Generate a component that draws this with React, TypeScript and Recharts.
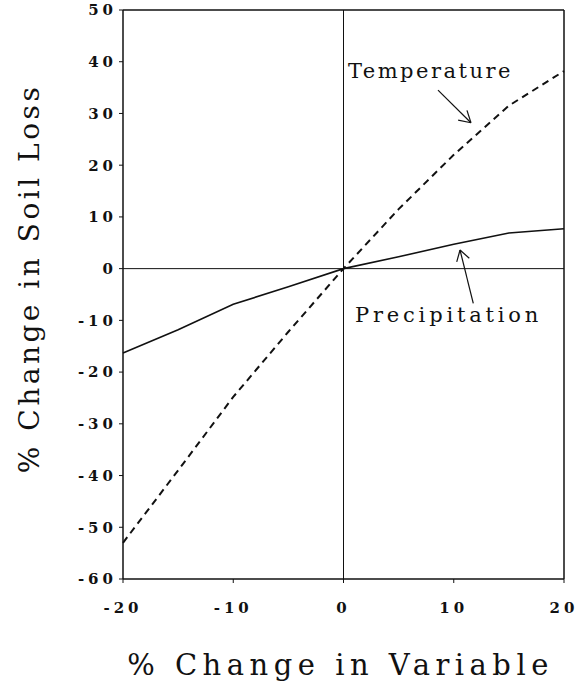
import React from 'react';
import {
  LineChart,
  Line,
  XAxis,
  YAxis,
  ReferenceLine,
  ReferenceDot,
  Label
} from 'recharts';

// % change in the input variable
const changeInVariable = [-20, -15, -10, -5, 0, 5, 10, 15, 20];
// % change in soil loss for each variable
const temperatureLoss = [-53, -39, -24.8, -12.2, 0, 11.5, 22, 31.5, 38.2];
const precipitationLoss = [-16.3, -11.8, -6.9, -3.5, 0, 2.3, 4.7, 6.9, 7.7];

const xTicks = [-20, -10, 0, 10, 20];
const yTicks = [-60, -50, -40, -30, -20, -10, 0, 10, 20, 30, 40, 50];

// annotation anchors, in data units
const temperatureLabelAt = { x: 0.4, y: 38.3 };
const precipitationLabelAt = { x: 1.05, y: -8.8 };
const temperatureArrow = [{ x: 8.57, y: 34.5 }, { x: 11.56, y: 28.2 }];
const temperatureBarbs = [{ x: 10.4, y: 28.7 }, { x: 11.2, y: 30.6 }];
const precipitationArrow = [{ x: 11.77, y: -6.7 }, { x: 10.57, y: 3.6 }];
const precipitationBarbs = [{ x: 10.27, y: 1.3 }, { x: 11.41, y: 2.0 }];

const data = changeInVariable.map((x, i) => ({
  x,
  temperature: temperatureLoss[i],
  precipitation: precipitationLoss[i]
}));

const FONT = '"DejaVu Serif", serif';

const fmt = (v: number) => (v < 0 ? `-${Math.abs(v)}` : `${v}`);

const tickStyle = {
  fontFamily: FONT,
  fontSize: 15,
  fontWeight: 'bold',
  fill: '#111',
  letterSpacing: 4
};

const SoilLossChart = () => {
  const head = (tip: { x: number; y: number }, barbs: { x: number; y: number }[]) =>
    barbs.map((b, i) => (
      <ReferenceLine key={i} segment={[b, tip]} stroke="#111" strokeWidth={1.2} />
    ));

  return (
    <div style={{ position: 'absolute', left: 0, top: 0, width: 584, height: 684, background: '#fff' }}>
      <LineChart
        width={584}
        height={684}
        data={data}
        margin={{ top: 10, right: 20, bottom: 0, left: 0 }}
      >
        <XAxis
          dataKey="x"
          type="number"
          domain={[-20, 20]}
          ticks={xTicks}
          tickFormatter={fmt}
          height={105}
          tickSize={4}
          tickMargin={19}
          tick={tickStyle}
          axisLine={{ stroke: '#111', strokeWidth: 1.5 }}
          tickLine={{ stroke: '#111' }}
        >
          <Label
            value="% Change in Variable"
            position="insideBottom"
            offset={9}
            dx={-3}
            style={{ fontFamily: FONT, fontSize: 29, fill: '#111', letterSpacing: 5.5 }}
          />
        </XAxis>
        <YAxis
          type="number"
          domain={[-60, 50]}
          ticks={yTicks}
          tickFormatter={fmt}
          width={123}
          tickSize={4}
          tickMargin={2}
          tick={tickStyle}
          axisLine={{ stroke: '#111', strokeWidth: 1.5 }}
          tickLine={{ stroke: '#111' }}
        >
          <Label
            value="% Change in Soil Loss"
            position="center"
            angle={-90}
            dx={-32}
            dy={-16}
            style={{ fontFamily: FONT, fontSize: 28, fill: '#111', letterSpacing: 3.5 }}
          />
        </YAxis>

        {/* frame and zero lines */}
        <ReferenceLine y={50} stroke="#111" strokeWidth={1.5} />
        <ReferenceLine x={20} stroke="#111" strokeWidth={1.5} />
        <ReferenceLine y={0} stroke="#111" strokeWidth={1} />
        <ReferenceLine x={0} stroke="#111" strokeWidth={1} />

        <Line
          type="linear"
          dataKey="temperature"
          stroke="#111"
          strokeWidth={2}
          strokeDasharray="7 5"
          dot={false}
          isAnimationActive={false}
        />
        <Line
          type="linear"
          dataKey="precipitation"
          stroke="#111"
          strokeWidth={1.6}
          dot={false}
          isAnimationActive={false}
        />

        <ReferenceLine segment={temperatureArrow} stroke="#111" strokeWidth={1.2} />
        {head(temperatureArrow[1], temperatureBarbs)}
        <ReferenceLine segment={precipitationArrow} stroke="#111" strokeWidth={1.2} />
        {head(precipitationArrow[1], precipitationBarbs)}

        <ReferenceDot
          x={temperatureLabelAt.x}
          y={temperatureLabelAt.y}
          r={0}
          stroke="none"
          label={{
            value: 'Temperature',
            position: 'right',
            offset: 0,
            style: { fontFamily: FONT, fontSize: 21, fill: '#111', letterSpacing: 2.5 }
          }}
        />
        <ReferenceDot
          x={precipitationLabelAt.x}
          y={precipitationLabelAt.y}
          r={0}
          stroke="none"
          label={{
            value: 'Precipitation',
            position: 'right',
            offset: 0,
            style: { fontFamily: FONT, fontSize: 21, fill: '#111', letterSpacing: 3.8 }
          }}
        />
      </LineChart>
    </div>
  );
};

export default SoilLossChart;
